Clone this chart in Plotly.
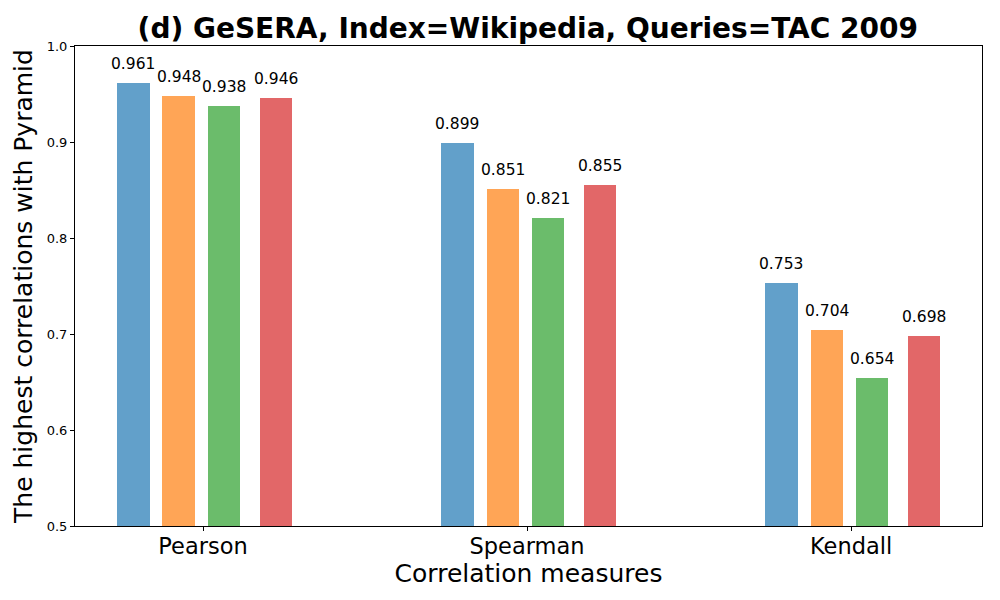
import plotly.graph_objects as go

categories = ["Pearson", "Spearman", "Kendall"]
series_names = ["S1", "S2", "S3", "S4"]
values = [
    [0.961, 0.899, 0.753],
    [0.948, 0.851, 0.704],
    [0.938, 0.821, 0.654],
    [0.946, 0.855, 0.698],
]
offsets = [-0.215, -0.075, 0.065, 0.225]
colors = ["#1f77b4", "#ff7f0e", "#2ca02c", "#d62728"]
font = "DejaVu Sans"

fig = go.Figure()
for name, vals, off, col in zip(series_names, values, offsets, colors):
    xs = [i + off for i in range(len(categories))]
    fig.add_trace(go.Bar(x=xs, y=vals, width=0.1, name=name,
                         marker=dict(color=col, opacity=0.7, line=dict(width=0)),
                         showlegend=False))
    for x, v in zip(xs, vals):
        fig.add_annotation(x=x, y=v, text=f"{v:.3f}", showarrow=False,
                           yanchor="bottom", yshift=8,
                           font=dict(family=font, size=15.5, color="black"))

fig.update_layout(
    width=992, height=592,
    margin=dict(l=67, r=18, t=38, b=74, autoexpand=False),
    plot_bgcolor="white", paper_bgcolor="white",
    font=dict(family=font, color="black"),
    title=dict(text="<b>(d) GeSERA, Index=Wikipedia, Queries=TAC 2009</b>",
               x=0.524, xanchor="center", y=0.966, yanchor="middle",
               font=dict(family=font, size=28, color="black")),
    bargap=0,
)
fig.update_xaxes(range=[-0.395, 2.404], tickvals=[0, 1, 2], ticktext=categories,
                 tickfont=dict(size=22.5), ticks="outside", ticklen=4, tickcolor="black",
                 ticklabelstandoff=-4,
                 showline=True, linecolor="black", linewidth=1, mirror=True,
                 showgrid=False, zeroline=False, automargin=False,
                 title=dict(text="Correlation measures", font=dict(size=25), standoff=1))
fig.update_yaxes(range=[0.5, 1.0], dtick=0.1, tickformat=".1f",
                 tickfont=dict(size=13), ticks="outside", ticklen=4, tickcolor="black",
                 showline=True, linecolor="black", linewidth=1, mirror=True,
                 showgrid=False, zeroline=False, automargin=False,
                 title=dict(text="The highest correlations with Pyramid", font=dict(size=25), standoff=6))

fig.write_html("out.html")
